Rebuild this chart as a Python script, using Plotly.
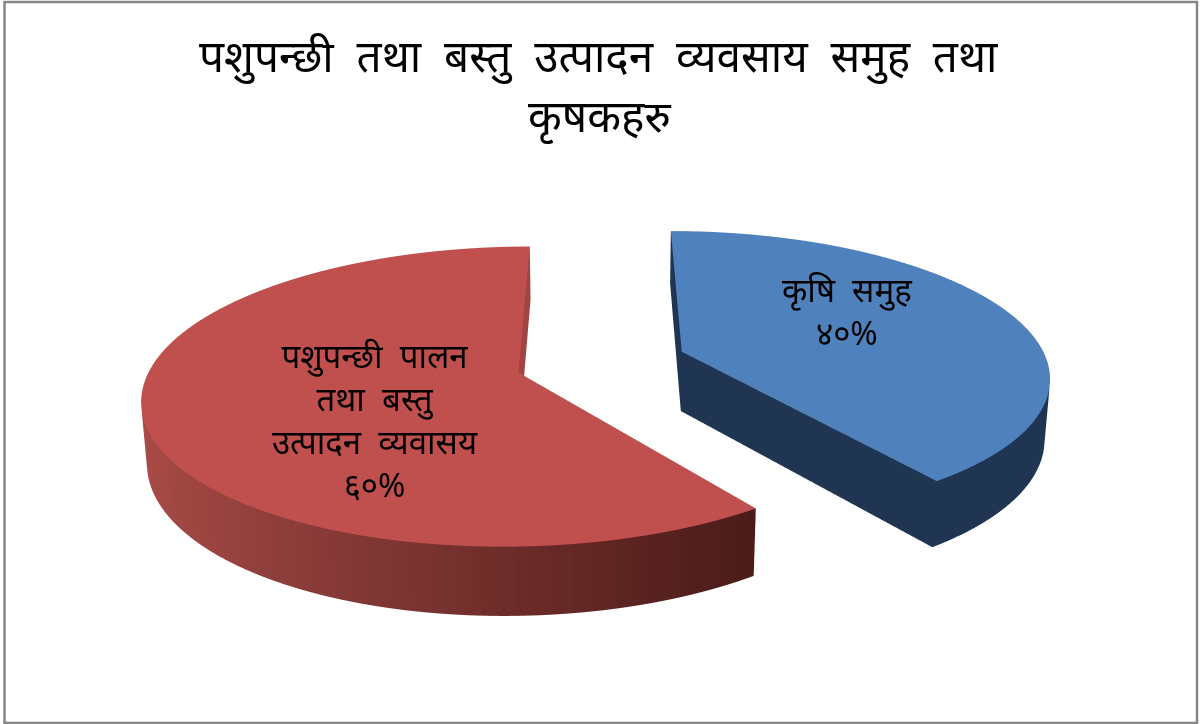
import numpy as np
import plotly.graph_objects as go

categories = ["कृषि\u00a0\u00a0समुह", "पशुपन्छी\u00a0\u00a0पालन<br>तथा\u00a0\u00a0बस्तु<br>उत्पादन\u00a0\u00a0व्यवासय"]
values = [40, 60]
pct_labels = ["४०%", "६०%"]
title_lines = ["पशुपन्छी\u00a0\u00a0तथा\u00a0\u00a0बस्तु\u00a0\u00a0उत्पादन\u00a0\u00a0व्यवसाय\u00a0\u00a0समुह\u00a0\u00a0तथा", "कृषकहरु"]
top_colors = ["#4F81BD", "#C0504D"]

FONT = "Noto Sans, DejaVu Sans, Liberation Sans, sans-serif"
EXPLODE = 0.235
HEIGHT = 0.18
STEP = 1.5
ELEV = np.radians(23)
LENS = 5.8          # depth of the pie's perspective, in radii
EYE = 4.0
ZOOM = 3.03


def rgb(hexa):
    return np.array([int(hexa[i:i + 2], 16) for i in (1, 3, 5)], float)


def css(c):
    return "rgb(%d,%d,%d)" % tuple(np.clip(c, 0, 255))


def wedge(start, end, top, side_a, side_b, cut):
    th = np.radians(np.linspace(start, end, int((end - start) / STEP) + 1))
    mid = np.radians((start + end) / 2)
    ox, oy = EXPLODE * np.sin(mid), EXPLODE * np.cos(mid)
    px = np.r_[0, np.sin(th)] + ox
    py = np.r_[0, np.cos(th)] + oy
    n = len(px)
    X = np.r_[px, px]
    Y = np.r_[py, py]
    Z = np.r_[np.zeros(n), np.full(n, -HEIGHT)]
    f = LENS / (LENS + Y * np.cos(ELEV) - Z * np.sin(ELEV))
    X, Y, Z = X * f, Y * f, Z * f
    I, J, K, C = [], [], [], []
    for a in range(1, n - 1):
        I.append(0); J.append(a); K.append(a + 1); C.append(css(rgb(top)))
    for a in range(1, n - 1):
        t = (np.sin(th[a - 1]) + 1) / 2
        c = css(rgb(side_a) * (1 - t) + rgb(side_b) * t)
        I += [a, a + 1]; J += [a + 1, a + 1 + n]; K += [a + n, a + n]; C += [c, c]
    for a in (1, n - 1):
        I += [0, a]; J += [a, a + n]; K += [n, n]; C += [css(rgb(cut))] * 2
    return go.Mesh3d(x=X, y=Y, z=Z, i=I, j=J, k=K, facecolor=C, flatshading=True,
                     lighting=dict(ambient=1, diffuse=0, specular=0, roughness=1, fresnel=0),
                     hoverinfo="skip", showscale=False)


total = sum(values)
blue_end = 360 * values[0] / total
traces = [
    wedge(0, blue_end, top_colors[0], "#1F3552", "#1F3552", "#1F3552"),
    wedge(blue_end, 360, top_colors[1], "#AC4D49", "#320F0D", "#A24441"),
]
fig = go.Figure(traces)
axis = dict(visible=False, showgrid=False, zeroline=False, showspikes=False)
common = dict(xref="paper", yref="paper", showarrow=False, xanchor="center", yanchor="middle")
fig.update_layout(
    width=1202, height=724, margin=dict(l=0, r=0, t=0, b=0), showlegend=False,
    paper_bgcolor="white", font=dict(family=FONT, color="black"),
    scene=dict(
        domain=dict(x=[0, 1], y=[0, 1]),
        xaxis=dict(axis, range=[-1.5, 1.5]), yaxis=dict(axis, range=[-1.5, 1.5]),
        zaxis=dict(axis, range=[-0.5, 0.5]),
        aspectmode="manual", aspectratio=dict(x=ZOOM, y=ZOOM, z=ZOOM / 3),
        camera=dict(eye=dict(x=0, y=-EYE * np.cos(ELEV), z=EYE * np.sin(ELEV)), up=dict(x=0, y=0, z=1),
                    center=dict(x=0, y=0, z=0),
                    projection=dict(type="orthographic")),
    ),
    shapes=[dict(type="rect", xref="paper", yref="paper", x0=4.5 / 1202, x1=1197 / 1202, y0=1 / 724, y1=722 / 724,
                 line=dict(color="#868686", width=2.5))],
    annotations=[
        dict(text=title_lines[0], x=0.4985, y=0.924, font=dict(size=44), **common),
        dict(text=title_lines[1], x=0.4985, y=0.841, font=dict(size=44), **common),
        dict(text=categories[0] + "<br>" + pct_labels[0], x=0.705, y=0.57, font=dict(size=33), **common),
        dict(text=categories[1] + "<br>" + pct_labels[1], x=0.312, y=0.42, font=dict(size=33), **common),
    ],
)
fig.write_html("out.html", config=dict(displayModeBar=False),
               post_script="document.body.style.margin='0';document.body.style.overflow='hidden';")
